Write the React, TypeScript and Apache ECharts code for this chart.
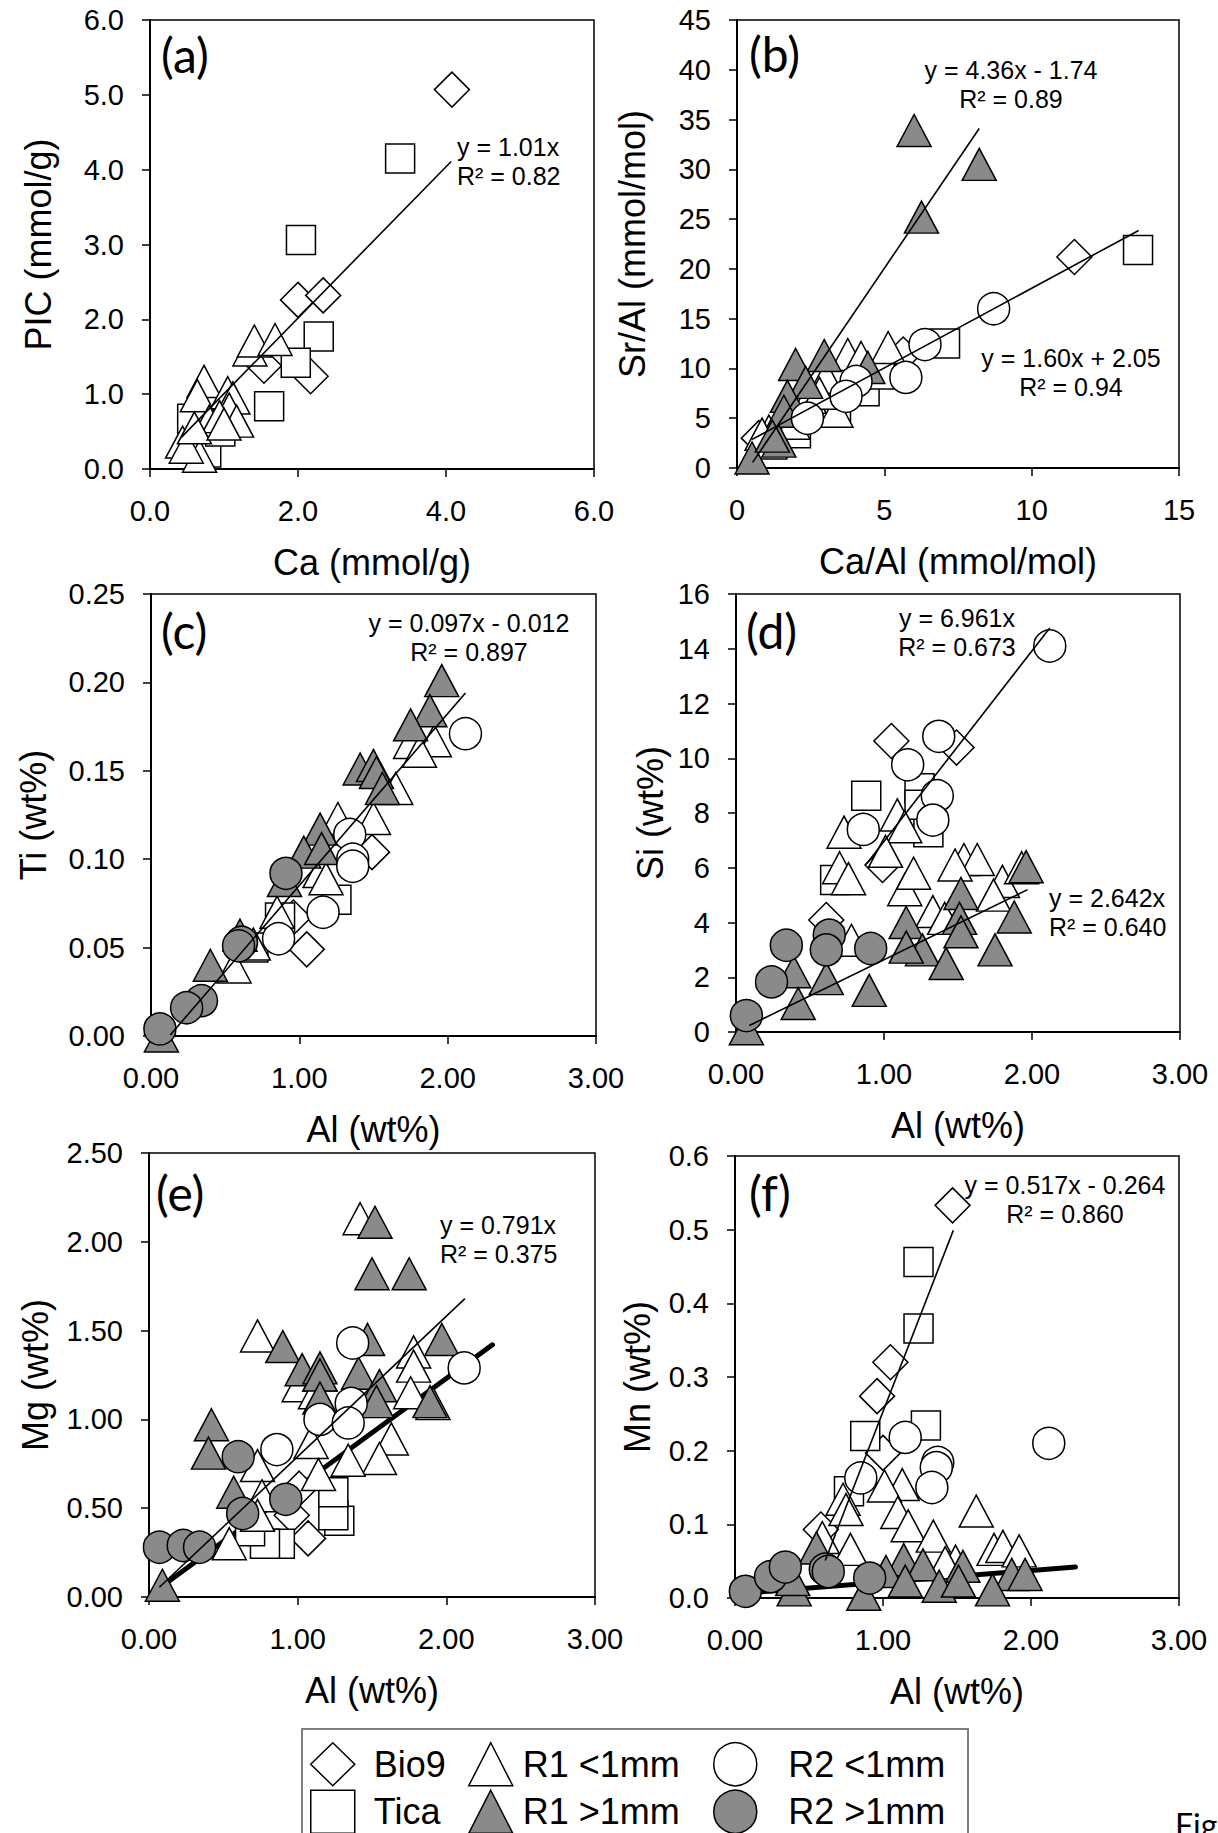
import React, { useEffect, useRef } from "react";
import * as echarts from "echarts";

// ---------- names ----------
const GROUPS = ["Bio9", "Tica", "R1 <1mm", "R1 >1mm", "R2 <1mm", "R2 >1mm"];

// ---------- panel (a): Ca vs PIC ----------
const aBio9 = [[4.08, 5.07], [2.0, 2.26], [2.34, 2.32], [1.54, 1.38], [2.17, 1.24], [0.9, 0.55]];
const aTica = [[3.38, 4.15], [2.04, 3.06], [2.28, 1.77], [1.97, 1.42], [1.61, 0.84], [0.57, 0.67], [0.76, 0.22], [0.95, 0.5]];
const aR1lt = [[1.35, 1.59], [1.41, 1.71], [1.69, 1.73], [0.73, 1.17], [0.64, 0.98], [1.05, 1.02], [1.12, 0.95], [1.07, 0.8], [1.17, 0.64], [0.8, 0.64], [0.44, 0.36], [0.67, 0.17], [0.49, 0.29], [0.94, 0.7], [0.6, 0.55], [1.0, 0.6]];
const aR1gt: number[][] = [];
const aR2lt: number[][] = [];
const aR2gt: number[][] = [];
const aTrend = [[0.42, 0.42], [4.07, 4.11]];

// ---------- panel (b): Ca/Al vs Sr/Al ----------
const bBio9 = [[11.45, 21.2], [5.64, 11.4], [0.74, 3.0], [1.5, 4.0]];
const bTica = [[13.61, 21.9], [7.06, 12.5], [4.33, 7.7], [4.84, 9.4], [3.36, 6.1], [1.2, 2.35], [2.0, 3.5]];
const bR1lt = [[5.13, 12.1], [3.76, 11.4], [4.21, 11.1], [3.02, 9.1], [2.45, 7.1], [1.08, 3.7], [0.85, 3.4], [3.36, 5.7], [2.8, 7.5], [1.9, 4.5]];
const bR1gt = [[6.01, 33.9], [8.22, 30.5], [6.26, 25.2], [1.99, 10.4], [2.96, 11.3], [2.33, 8.6], [1.71, 7.2], [1.59, 5.7], [1.42, 2.7], [0.51, 1.0], [4.44, 10.1], [1.2, 3.2]];
const bR2lt = [[8.71, 16.0], [6.38, 12.4], [5.73, 9.1], [4.04, 8.7], [3.7, 7.2], [2.39, 5.0]];
const bR2gt: number[][] = [];
const bTrend1 = [[0.53, 0.57], [8.22, 34.1]];
const bTrend2 = [[0.5, 2.85], [13.63, 23.86]];

// ---------- panel (c): Al vs Ti ----------
const cBio9 = [[1.49, 0.104], [1.05, 0.049], [0.96, 0.067]];
const cTica = [[1.25, 0.077], [0.87, 0.067], [0.69, 0.05]];
const cR1lt = [[1.75, 0.166], [1.91, 0.167], [1.81, 0.161], [1.65, 0.14], [1.5, 0.123], [1.26, 0.123], [1.14, 0.093], [1.18, 0.089], [0.85, 0.07], [0.56, 0.039], [0.69, 0.052]];
const cR1gt = [[1.96, 0.201], [1.88, 0.184], [1.75, 0.176], [1.41, 0.151], [1.5, 0.153], [1.52, 0.149], [1.56, 0.14], [1.14, 0.117], [1.03, 0.104], [0.9, 0.088], [0.4, 0.04], [0.6, 0.057], [0.07, 0.0], [1.15, 0.106]];
const cR2lt = [[2.12, 0.171], [1.34, 0.114], [1.36, 0.1], [1.36, 0.096], [1.16, 0.07], [0.86, 0.055]];
const cR2gt = [[0.91, 0.092], [0.61, 0.053], [0.59, 0.051], [0.34, 0.02], [0.24, 0.016], [0.06, 0.004]];
const cTrend = [[0.13, 0.0006], [2.12, 0.194]];

// ---------- panel (d): Al vs Si ----------
const dBio9 = [[1.05, 10.63], [1.49, 10.39], [0.61, 4.09], [0.99, 6.1]];
const dTica = [[0.88, 8.63], [1.24, 8.9], [0.67, 5.55], [1.3, 7.3], [1.24, 8.3]];
const dR1lt = [[1.09, 7.93], [1.14, 7.5], [0.73, 7.3], [1.01, 6.6], [0.7, 6.0], [0.76, 5.6], [1.14, 5.2], [1.2, 5.8], [1.54, 6.3], [1.63, 6.3], [1.48, 6.1], [1.8, 5.5], [1.93, 6.0], [1.33, 4.4], [1.74, 5.0], [0.78, 3.35], [1.41, 4.15]];
const dR1gt = [[1.96, 6.04], [1.52, 5.06], [1.88, 4.2], [1.15, 4.0], [1.51, 4.15], [1.52, 3.66], [1.26, 3.0], [1.15, 3.1], [1.42, 2.5], [1.75, 3.0], [0.39, 2.2], [0.61, 1.95], [0.9, 1.52], [0.42, 1.04], [0.07, 0.12]];
const dR2lt = [[2.12, 14.1], [1.37, 10.8], [1.16, 9.76], [1.36, 8.63], [1.33, 7.74], [0.86, 7.4]];
const dR2gt = [[0.34, 3.17], [0.63, 3.54], [0.61, 3.0], [0.91, 3.05], [0.24, 1.83], [0.07, 0.6]];
const dTrend1 = [[0.88, 6.13], [2.12, 14.76]];
const dTrend2 = [[0.09, 0.24], [1.97, 5.2]];

// ---------- panel (e): Al vs Mg ----------
const eBio9 = [[1.07, 0.33], [0.96, 0.46], [1.01, 0.61]];
const eTica = [[1.28, 0.43], [1.24, 0.46], [1.24, 0.59], [0.88, 0.3], [0.78, 0.3], [0.68, 0.37]];
const eR1lt = [[1.42, 2.13], [0.73, 1.47], [1.78, 1.38], [1.78, 1.3], [1.76, 1.15], [1.91, 1.09], [1.01, 1.19], [1.15, 1.25], [1.12, 1.15], [1.63, 0.89], [1.55, 0.78], [1.34, 0.77], [1.09, 0.87], [1.14, 0.69], [0.73, 0.74], [0.76, 0.57], [0.54, 0.3], [0.73, 0.46]];
const eR1gt = [[1.52, 2.11], [1.5, 1.82], [1.75, 1.82], [1.97, 1.45], [0.9, 1.41], [1.03, 1.28], [1.15, 1.29], [1.15, 1.25], [1.47, 1.45], [1.41, 1.26], [1.55, 1.19], [1.53, 1.1], [1.89, 1.1], [0.42, 0.97], [0.4, 0.81], [0.57, 0.59], [1.15, 1.12], [0.09, 0.066]];
const eR2lt = [[2.12, 1.29], [1.37, 1.43], [1.36, 1.09], [1.15, 1.0], [1.34, 0.98], [0.86, 0.83]];
const eR2gt = [[0.6, 0.79], [0.92, 0.55], [0.63, 0.47], [0.07, 0.28], [0.23, 0.29], [0.34, 0.28]];
const eTrend = [[0.07, 0.055], [2.125, 1.68]];
const eThick = [[0.08, 0.056], [2.31, 1.42]];

// ---------- panel (f): Al vs Mn ----------
const fBio9 = [[1.47, 0.533], [1.05, 0.32], [0.96, 0.274], [1.0, 0.197], [0.58, 0.093]];
const fTica = [[1.24, 0.456], [1.24, 0.366], [1.29, 0.234], [0.88, 0.22], [0.77, 0.145]];
const fR1lt = [[1.13, 0.154], [1.01, 0.152], [1.63, 0.118], [0.73, 0.134], [0.75, 0.12], [1.1, 0.116], [1.17, 0.098], [1.34, 0.084], [0.78, 0.066], [1.75, 0.066], [1.81, 0.07], [1.92, 0.064], [1.49, 0.05], [1.42, 0.048], [0.59, 0.082]];
const fR1gt = [[1.14, 0.052], [1.27, 0.045], [1.54, 0.043], [1.87, 0.032], [1.96, 0.032], [0.55, 0.068], [0.4, 0.011], [1.02, 0.036], [1.15, 0.023], [1.38, 0.016], [1.74, 0.011], [1.51, 0.023], [0.87, 0.005], [0.39, 0.025]];
const fR2lt = [[2.12, 0.21], [1.15, 0.218], [1.37, 0.184], [1.36, 0.177], [1.33, 0.15], [0.85, 0.163]];
const fR2gt = [[0.07, 0.009], [0.24, 0.029], [0.34, 0.042], [0.61, 0.039], [0.63, 0.036], [0.91, 0.027]];
const fTrend = [[0.61, 0.051], [1.475, 0.499]];
const fThick = [[0.09, 0.007], [2.3, 0.042]];

// ---------- axis ticks / names ----------
const panelLabels = ["(a)", "(b)", "(c)", "(d)", "(e)", "(f)"];
const xNames = ["Ca (mmol/g)", "Ca/Al (mmol/mol)", "Al (wt%)", "Al (wt%)", "Al (wt%)", "Al (wt%)"];
const yNames = ["PIC (mmol/g)", "Sr/Al (mmol/mol)", "Ti (wt%)", "Si (wt%)", "Mg (wt%)", "Mn (wt%)"];
const xRanges = [[0, 6, 2], [0, 15, 5], [0, 3, 1], [0, 3, 1], [0, 3, 1], [0, 3, 1]];
const yRanges = [[0, 6, 1], [0, 45, 5], [0, 0.25, 0.05], [0, 16, 2], [0, 2.5, 0.5], [0, 0.6, 0.1]];
const xDecimals = [1, 0, 2, 2, 2, 2];
const yDecimals = [1, 0, 2, 0, 2, 1];
const equations = [
  ["y = 1.01x", "R² = 0.82"],
  ["y = 4.36x - 1.74", "R² = 0.89"],
  ["y = 1.60x + 2.05", "R² = 0.94"],
  ["y = 0.097x - 0.012", "R² = 0.897"],
  ["y = 6.961x", "R² = 0.673"],
  ["y = 2.642x", "R² = 0.640"],
  ["y = 0.791x", "R² = 0.375"],
  ["y = 0.517x - 0.264", "R² = 0.860"],
];

const panelData = [
  [aBio9, aTica, aR1lt, aR1gt, aR2lt, aR2gt],
  [bBio9, bTica, bR1lt, bR1gt, bR2lt, bR2gt],
  [cBio9, cTica, cR1lt, cR1gt, cR2lt, cR2gt],
  [dBio9, dTica, dR1lt, dR1gt, dR2lt, dR2gt],
  [eBio9, eTica, eR1lt, eR1gt, eR2lt, eR2gt],
  [fBio9, fTica, fR1lt, fR1gt, fR2lt, fR2gt],
];
const thinTrends = [[aTrend], [bTrend1, bTrend2], [cTrend], [dTrend1, dTrend2], [eTrend], [fTrend]];
const thickTrends = [[], [], [], [], [eThick], [fThick]];

// ---------- layout / style ----------
const FONT = '"Liberation Sans", Arial, sans-serif';
const CAL = 'Lato, "Open Sans", sans-serif';
const GRAY = "#8a8a8a";
const grids = [
  { left: 150, top: 20, width: 444, height: 449 },
  { left: 737, top: 20, width: 442, height: 448 },
  { left: 151, top: 594, width: 445, height: 442 },
  { left: 736, top: 594, width: 444, height: 438 },
  { left: 149, top: 1153, width: 446, height: 444 },
  { left: 735, top: 1156, width: 444, height: 442 },
];
const yNameGaps = [94, 87, 100, 68, 96, 80];
const symbolStyle: Record<string, any> = {
  Bio9: { symbol: "diamond", symbolSize: [35, 35], color: "#fff" },
  Tica: { symbol: "rect", symbolSize: [29, 29], color: "#fff" },
  "R1 <1mm": { symbol: "triangle", symbolSize: [34, 32], color: "#fff" },
  "R1 >1mm": { symbol: "triangle", symbolSize: [34, 32], color: GRAY },
  "R2 <1mm": { symbol: "circle", symbolSize: 32, color: "#fff" },
  "R2 >1mm": { symbol: "circle", symbolSize: 32, color: GRAY },
};
const panelLabelPos = [[161, 54], [749, 53], [161, 630], [746, 630], [156, 1192], [749, 1192]];
const eqPos: [number, number, string][] = [
  [457, 147, "left"],
  [1011, 70, "center"],
  [1071, 358, "center"],
  [469, 623, "center"],
  [957, 618, "center"],
  [1049, 898, "left"],
  [440, 1225, "left"],
  [1065, 1185, "center"],
];

function buildOption() {
  const xAxis: any[] = [];
  const yAxis: any[] = [];
  const series: any[] = [];
  grids.forEach((g, i) => {
    const axisCommon = {
      type: "value",
      gridIndex: i,
      splitLine: { show: false },
      axisLine: { show: true, onZero: false, lineStyle: { color: "#000", width: 2 } },
      axisTick: { show: true, inside: false, length: 8, lineStyle: { color: "#000", width: 1.5 } },
      nameLocation: "middle",
      nameTextStyle: { fontFamily: FONT, fontSize: 36, color: "#000" },
    };
    xAxis.push({
      ...axisCommon,
      min: xRanges[i][0],
      max: xRanges[i][1],
      interval: xRanges[i][2],
      name: xNames[i],
      nameGap: 75,
      axisLabel: {
        fontFamily: FONT,
        fontSize: 29,
        color: "#000",
        margin: 27,
        formatter: (v: number) => v.toFixed(xDecimals[i]),
      },
    });
    yAxis.push({
      ...axisCommon,
      min: yRanges[i][0],
      max: yRanges[i][1],
      interval: yRanges[i][2],
      name: yNames[i],
      nameGap: yNameGaps[i],
      axisLabel: {
        fontFamily: FONT,
        fontSize: 29,
        color: "#000",
        margin: 26,
        formatter: (v: number) => v.toFixed(yDecimals[i]),
      },
    });
    thickTrends[i].forEach((d, k) => {
      series.push({
        type: "line",
        name: "thick" + i + "-" + k,
        xAxisIndex: i,
        yAxisIndex: i,
        data: d,
        symbol: "none",
        silent: true,
        z: 1,
        lineStyle: { color: "#000", width: 5, cap: "round" },
      });
    });
    GROUPS.forEach((gName, k) => {
      const s = symbolStyle[gName];
      series.push({
        type: "scatter",
        name: gName,
        xAxisIndex: i,
        yAxisIndex: i,
        data: panelData[i][k],
        symbol: s.symbol,
        symbolSize: s.symbolSize,
        z: 2 + k * 0.01,
        itemStyle: { color: s.color, borderColor: "#000", borderWidth: 1.5, opacity: 1 },
        emphasis: { disabled: true },
      });
    });
    thinTrends[i].forEach((d, k) => {
      series.push({
        type: "line",
        name: "trend" + i + "-" + k,
        xAxisIndex: i,
        yAxisIndex: i,
        data: d,
        symbol: "none",
        silent: true,
        z: 5,
        lineStyle: { color: "#000", width: 1.6 },
      });
    });
  });

  const graphic: any[] = [];
  panelLabels.forEach((t, i) => {
    graphic.push({
      type: "text",
      x: panelLabelPos[i][0],
      y: panelLabelPos[i][1],
      style: { text: t, font: `48px ${CAL}`, fill: "#000", textAlign: "left", textVerticalAlign: "middle" },
    });
  });
  equations.forEach((lines, i) => {
    const [x, y, al] = eqPos[i];
    lines.forEach((ln, k) => {
      graphic.push({
        type: "text",
        x,
        y: y + k * 29,
        style: { text: ln, font: `25px ${FONT}`, fill: "#000", textAlign: al, textVerticalAlign: "middle" },
      });
    });
  });
  graphic.push({
    type: "rect",
    shape: { x: 302, y: 1729, width: 666, height: 140 },
    style: { fill: "none", stroke: "#7f7f7f", lineWidth: 2 },
  });
  graphic.push({
    type: "text",
    x: 1175,
    y: 1824,
    style: { text: "Fig", font: `32px ${CAL}`, fill: "#000", textAlign: "left", textVerticalAlign: "middle" },
  });

  const legendCommon = {
    type: "plain",
    orient: "vertical",
    top: 1742,
    height: 200,
    width: 260,
    padding: 0,
    itemWidth: 44,
    itemHeight: 43,
    itemGap: 3,
    selectedMode: false,
    itemStyle: { borderColor: "#000", borderWidth: 1.5 },
  };
  const legend = [
    { ...legendCommon, left: 310, data: ["Bio9", "Tica"], textStyle: { fontFamily: FONT, fontSize: 36, color: "#000", padding: [0, 0, 0, 14] } },
    { ...legendCommon, left: 468, data: ["R1 <1mm", "R1 >1mm"], textStyle: { fontFamily: FONT, fontSize: 36, color: "#000", padding: [0, 0, 0, 5] } },
    { ...legendCommon, left: 713, data: ["R2 <1mm", "R2 >1mm"], textStyle: { fontFamily: FONT, fontSize: 36, color: "#000", padding: [0, 0, 0, 26] } },
  ];

  return {
    animation: false,
    backgroundColor: "#fff",
    grid: grids.map((g) => ({ ...g, show: true, borderColor: "#000", borderWidth: 1.5, backgroundColor: "transparent" })),
    xAxis,
    yAxis,
    series,
    legend,
    graphic,
  };
}

export default function App() {
  const ref = useRef<HTMLDivElement>(null);
  useEffect(() => {
    if (!ref.current) return;
    const chart = echarts.init(ref.current, null, { renderer: "svg" });
    chart.setOption(buildOption() as any);
    return () => chart.dispose();
  }, []);
  return (
    <div
      ref={ref}
      style={{ position: "absolute", left: 0, top: 0, width: 1218, height: 1833, background: "#fff" }}
    />
  );
}
